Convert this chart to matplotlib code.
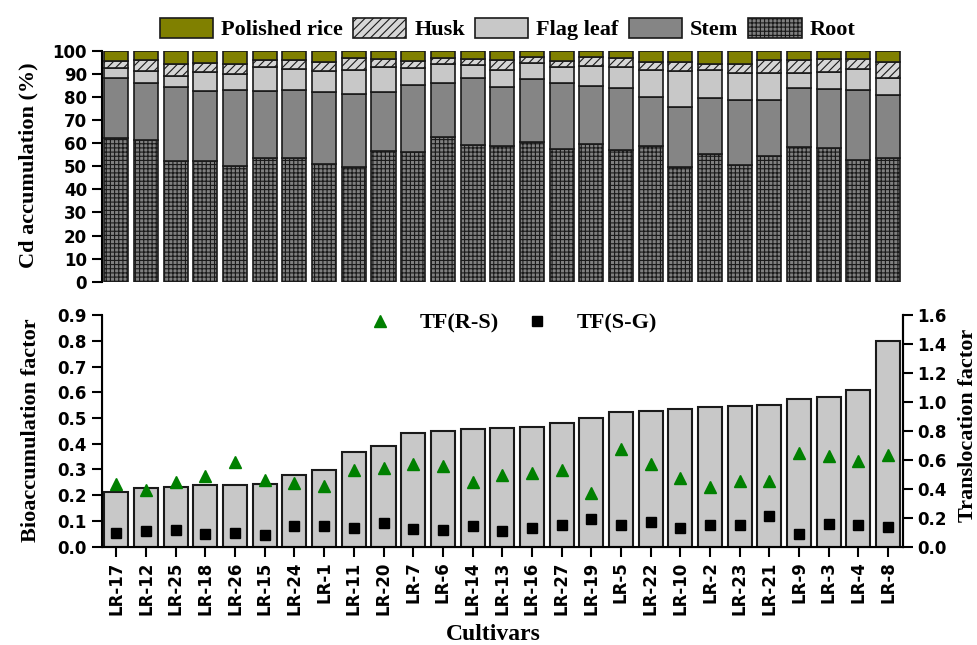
import matplotlib.pyplot as plt
import numpy as np

cultivars = ['LR-17', 'LR-12', 'LR-25', 'LR-18', 'LR-26', 'LR-15', 'LR-24', 'LR-1', 'LR-11',
             'LR-20', 'LR-7', 'LR-6', 'LR-14', 'LR-13', 'LR-16', 'LR-27', 'LR-19', 'LR-5',
             'LR-22', 'LR-10', 'LR-2', 'LR-23', 'LR-21', 'LR-9', 'LR-3', 'LR-4', 'LR-8']

# Cd share of each organ (%)
root = [62.4, 61.3, 52.4, 52.4, 50.0, 53.7, 53.6, 50.9, 49.7, 56.8, 56.3, 62.6, 59.2, 58.9,
        60.6, 57.6, 59.8, 56.9, 58.8, 49.6, 55.5, 50.6, 54.6, 58.6, 58.0, 52.7, 53.6]
stem = [25.7, 24.8, 32.2, 30.4, 32.9, 28.9, 29.7, 31.4, 31.5, 25.5, 28.9, 23.7, 29.2, 25.7,
        27.2, 28.7, 25.2, 27.0, 21.4, 26.0, 24.1, 28.3, 24.0, 25.3, 25.6, 30.2, 27.4]
flag_leaf = [4.7, 5.3, 4.6, 8.1, 7.2, 10.4, 9.1, 8.9, 10.5, 10.7, 7.3, 8.1, 5.4, 7.2,
             7.0, 6.7, 8.5, 9.2, 11.7, 15.6, 12.1, 11.5, 11.9, 6.5, 7.2, 9.3, 7.5]
husk = [3.0, 4.6, 5.3, 3.9, 4.2, 3.1, 3.6, 4.1, 5.1, 3.4, 3.3, 2.7, 2.9, 4.3,
        2.6, 2.7, 3.9, 4.0, 3.5, 3.9, 2.6, 4.1, 5.5, 5.6, 5.9, 4.5, 6.9]
polished_rice = [4.2, 4.0, 5.5, 5.2, 5.7, 3.9, 4.0, 4.7, 3.2, 3.6, 4.2, 2.9, 3.3, 3.9,
                 2.6, 4.3, 2.6, 2.9, 4.6, 4.9, 5.7, 5.5, 4.0, 4.0, 3.3, 3.3, 4.6]

baf = [0.214, 0.229, 0.232, 0.238, 0.238, 0.244, 0.277, 0.299, 0.369, 0.392, 0.443, 0.448,
       0.457, 0.462, 0.465, 0.482, 0.499, 0.524, 0.527, 0.536, 0.542, 0.548, 0.552, 0.575,
       0.583, 0.609, 0.798]
tf_rs = [0.431, 0.389, 0.449, 0.488, 0.585, 0.461, 0.440, 0.421, 0.532, 0.541, 0.573, 0.557,
         0.449, 0.495, 0.507, 0.528, 0.373, 0.675, 0.573, 0.474, 0.414, 0.451, 0.456, 0.647,
         0.626, 0.592, 0.633]
tf_sg = [0.092, 0.108, 0.113, 0.090, 0.095, 0.081, 0.145, 0.145, 0.127, 0.164, 0.122, 0.113,
         0.141, 0.106, 0.129, 0.150, 0.189, 0.152, 0.173, 0.127, 0.150, 0.150, 0.212, 0.090,
         0.157, 0.150, 0.134]

plt.rcParams['font.family'] = 'DejaVu Sans'
plt.rcParams['font.weight'] = 'bold'
plt.rcParams['hatch.linewidth'] = 0.8
serif = {'family': 'Liberation Serif', 'weight': 'bold'}

fig = plt.figure(figsize=(9.78, 6.45), dpi=100)
ax1 = fig.add_axes([0.1038, 0.5633, 0.8195, 0.3576])
ax2 = fig.add_axes([0.1038, 0.1524, 0.8195, 0.3592])
x = np.arange(len(cultivars))
w = 0.81

# top: stacked organ shares
layers = [(root, 'Root', '#808080', '++++'),
          (stem, 'Stem', '#858585', None),
          (flag_leaf, 'Flag leaf', '#c8c8c8', None),
          (husk, 'Husk', '#d6d6d6', '////'),
          (polished_rice, 'Polished rice', '#808000', None)]
bottom = np.zeros(len(x))
bars = []
for vals, name, color, hatch in layers:
    b = ax1.bar(x, vals, w, bottom=bottom, color=color, edgecolor='#1a1a1a',
                linewidth=1.2, hatch=hatch, label=name)
    bars.append(b)
    bottom += np.array(vals)

ax1.set_xlim(-0.5, len(x) - 0.5)
ax1.set_ylim(0, 100)
ax1.set_yticks(range(0, 101, 10))
ax1.set_xticks([])
for s in ['top', 'right', 'bottom']:
    ax1.spines[s].set_visible(False)
ax1.spines['left'].set_linewidth(1.5)
ax1.tick_params(axis='y', direction='out', length=7, width=1.5, labelsize=12)

fig.legend(bars[::-1], [l[1] for l in layers[::-1]], loc='center',
           bbox_to_anchor=(0.519, 0.955), ncol=5, frameon=False, prop=dict(serif, size=16),
           handlelength=2.4, handleheight=1.0, handletextpad=0.36, columnspacing=0.45)
fig.text(28 / 978, 0.744, 'Cd accumulation (%)', rotation=90, ha='center', va='center',
         fontdict=serif, size=16)

# bottom: bioaccumulation and translocation factors
ax2.bar(x, baf, w, color='#c8c8c8', edgecolor='#1a1a1a', linewidth=1.5)
ax2.set_xlim(-0.5, len(x) - 0.5)
ax2.set_ylim(0, 0.9)
ax2.set_yticks(np.arange(0, 0.91, 0.1))
ax2.set_yticklabels(['%.1f' % v for v in np.arange(0, 0.91, 0.1)])
ax2.set_xticks(x)
ax2.set_xticklabels(cultivars, rotation=90)
ax2.spines['top'].set_visible(False)
for s in ['left', 'bottom', 'right']:
    ax2.spines[s].set_linewidth(1.5)
ax2.tick_params(direction='out', length=7, width=1.5, labelsize=12)

ax3 = ax2.twinx()
l1, = ax3.plot(x, tf_rs, linestyle='none', marker='^', color='#008000', markersize=8.6,
               label='TF(R-S)')
l2, = ax3.plot(x, tf_sg, linestyle='none', marker='s', color='black', markersize=7.7,
               label='TF(S-G)')
ax3.set_ylim(0, 1.6)
ax3.set_yticks(np.arange(0, 1.61, 0.2))
ax3.set_yticklabels(['%.1f' % v for v in np.arange(0, 1.61, 0.2)])
ax3.spines['top'].set_visible(False)
ax3.spines['right'].set_linewidth(1.5)
ax3.tick_params(direction='out', length=7, width=1.5, labelsize=12)

fig.legend([l1, l2], ['TF(R-S)', 'TF(S-G)'], loc='center', bbox_to_anchor=(0.519, 0.499),
           ncol=2, frameon=False, prop=dict(serif, size=16), numpoints=1,
           handlelength=2.0, handletextpad=0.8, columnspacing=0.71)

fig.text(31 / 978, 0.333, 'Bioaccumulation factor', rotation=90, ha='center', va='center',
         fontdict=serif, size=16)
fig.text(968 / 978, 0.341, 'Translocation factor', rotation=90, ha='center', va='center',
         fontdict=serif, size=16)
fig.text(493 / 978, 0.017, 'Cultivars', ha='center', va='center', fontdict=serif, size=17)

fig.savefig('out.png', dpi=100)
